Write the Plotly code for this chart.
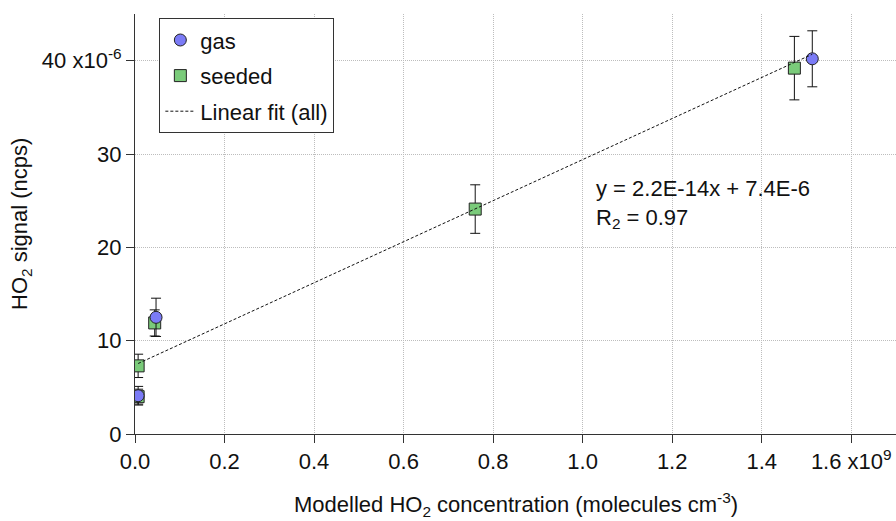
import plotly.graph_objects as go

# ---- data ----
# x in molecules cm^-3, y in ncps
gas_x = [0.007e9, 0.047e9, 1.513e9]
gas_y = [4.1e-6, 12.5e-6, 40.2e-6]
gas_err = [1.0e-6, 2.05e-6, 3.0e-6]

seeded_x = [0.007e9, 0.007e9, 0.044e9, 0.760e9, 1.473e9]
seeded_y = [4.0e-6, 7.3e-6, 11.9e-6, 24.1e-6, 39.2e-6]
seeded_err = [0.8e-6, 1.25e-6, 1.4e-6, 2.6e-6, 3.4e-6]

fit_slope = 2.2e-14
fit_intercept = 7.4e-6

x_tick_vals = [0.0, 0.2, 0.4, 0.6, 0.8, 1.0, 1.2, 1.4, 1.6]
x_tick_text = ["0.0", "0.2", "0.4", "0.6", "0.8", "1.0", "1.2", "1.4", "1.6 x10<sup>9</sup>"]
y_tick_vals = [0, 10, 20, 30, 40]
y_tick_text = ["0", "10", "20", "30", "40 x10<sup>-6</sup>"]

XS = 1e9
YS = 1e-6

FONT = "Arial, Liberation Sans, sans-serif"
FS = 22

all_x = gas_x + seeded_x
fit_x = [min(all_x), max(all_x)]
fit_y = [fit_slope * v + fit_intercept for v in fit_x]

fig = go.Figure()

fig.add_trace(go.Scatter(
    x=[v / XS for v in seeded_x], y=[v / YS for v in seeded_y],
    mode="markers", name="seeded", legendrank=2, legendgroup="b",
    marker=dict(symbol="square", size=12, color="#7acb7a",
                line=dict(color="#222222", width=1)),
    error_y=dict(type="data", array=[v / YS for v in seeded_err],
                 color="#111111", thickness=1, width=5),
))
fig.add_trace(go.Scatter(
    x=[v / XS for v in gas_x], y=[v / YS for v in gas_y],
    mode="markers", name="gas", legendrank=1, legendgroup="a",
    marker=dict(symbol="circle", size=12, color="#7b7bf6",
                line=dict(color="#222222", width=1)),
    error_y=dict(type="data", array=[v / YS for v in gas_err],
                 color="#111111", thickness=1, width=5),
))
fig.add_trace(go.Scatter(
    x=[v / XS for v in fit_x], y=[v / YS for v in fit_y],
    mode="lines", name="Linear fit (all)", legendrank=3, legendgroup="c",
    line=dict(color="#111111", width=1, dash="3px,2px"),
))

fig.add_annotation(x=1.025, y=24.6, xref="x", yref="y", xanchor="left", yanchor="middle",
                   align="left", showarrow=False,
                   text="y = 2.2E-14x + 7.4E-6<br>R<sub>2</sub> = 0.97",
                   font=dict(family=FONT, size=FS, color="#111111"))

# axis titles
fig.add_annotation(x=0.5, y=-(505 - 434) / 420.3, xref="paper", yref="paper",
                   xanchor="center", yanchor="middle", showarrow=False,
                   text="Modelled HO<sub>2</sub> concentration (molecules cm<sup>-3</sup>)",
                   font=dict(family=FONT, size=FS, color="#111111"))
fig.add_annotation(x=-(135 - 21) / 761, y=0.5, xref="paper", yref="paper",
                   xanchor="center", yanchor="middle", showarrow=False, textangle=-90,
                   text="HO<sub>2</sub> signal (ncps)",
                   font=dict(family=FONT, size=FS, color="#111111"))

grid = dict(showgrid=True, gridcolor="#bdbdbd", gridwidth=1, griddash="1px,1px")

fig.update_xaxes(range=[0, 1.7], tickmode="array", tickvals=x_tick_vals, ticktext=x_tick_text,
                 ticks="outside", ticklen=8, tickcolor="#333333", showline=True,
                 linecolor="#333333", linewidth=1, zeroline=False,
                 tickfont=dict(family=FONT, size=FS, color="#111111"), **grid)
fig.update_yaxes(range=[0, 45], tickmode="array", tickvals=y_tick_vals, ticktext=y_tick_text,
                 ticks="outside", ticklen=8, tickcolor="#333333", showline=True,
                 linecolor="#333333", linewidth=1, zeroline=False,
                 tickfont=dict(family=FONT, size=FS, color="#111111"), **grid)

fig.update_layout(
    width=896, height=521,
    margin=dict(l=135, r=0, t=14, b=87),
    paper_bgcolor="white", plot_bgcolor="white",
    font=dict(family=FONT, size=FS, color="#111111"),
    legend=dict(x=0.032, y=0.99, xanchor="left", yanchor="top",
                bgcolor="white", bordercolor="#333333", borderwidth=1,
                font=dict(family=FONT, size=FS, color="#111111"),
                traceorder="grouped", tracegroupgap=4),
    showlegend=True,
)

fig.write_html("out.html")
